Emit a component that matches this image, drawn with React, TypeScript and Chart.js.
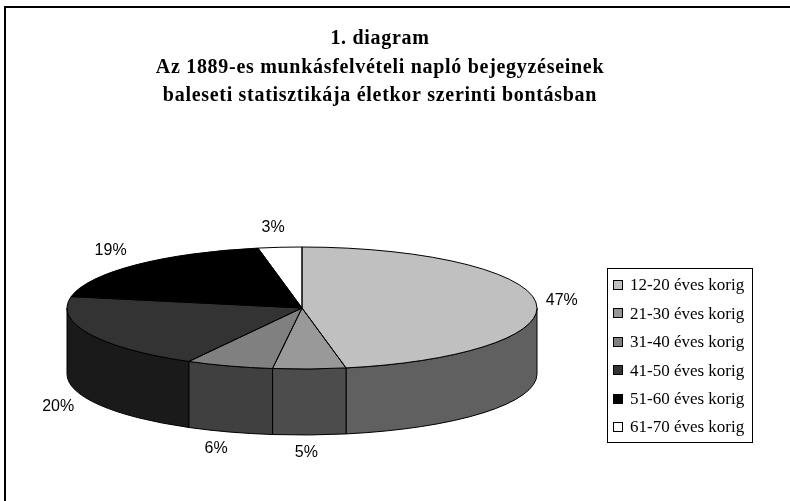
import React, { useEffect, useRef } from "react";
import { Chart, registerables } from "chart.js";

Chart.register(...registerables);

const categories = [
  "12-20 éves korig",
  "21-30 éves korig",
  "31-40 éves korig",
  "41-50 éves korig",
  "51-60 éves korig",
  "61-70 éves korig",
];
const shares = [47, 5, 6, 20, 19, 3];
const titleLines = [
  "1. diagram",
  "Az 1889-es munkásfelvételi napló bejegyzéseinek",
  "baleseti statisztikája életkor szerinti bontásban",
];

const topColors = ["#c0c0c0", "#999999", "#808080", "#333333", "#000000", "#ffffff"];
const sideColors = ["#606060", "#4c4c4c", "#404040", "#1a1a1a", "#000000", "#808080"];
const legendColors = ["#c0c0c0", "#969696", "#808080", "#333333", "#000000", "#ffffff"];

// projected pie geometry (screen px)
const ECX = 302;
const ECY = 308;
const RX = 235;
const RY = 61;
const DEPTH = 66;

const pie3d = {
  id: "pie3d",
  beforeDraw(chart: any) {
    const ctx = chart.ctx;
    ctx.save();
    ctx.fillStyle = "#ffffff";
    ctx.fillRect(0, 0, chart.width, chart.height);
    ctx.strokeStyle = "#000";
    ctx.lineWidth = 2;
    ctx.beginPath();
    ctx.moveTo(5, chart.height + 5);
    ctx.lineTo(5, 7);
    ctx.lineTo(chart.width + 5, 7);
    ctx.stroke();
    // title
    ctx.fillStyle = "#000";
    ctx.font = "bold 20px 'Liberation Serif', 'Times New Roman', serif";
    (ctx as any).letterSpacing = "0.7px";
    ctx.textAlign = "center";
    ctx.textBaseline = "alphabetic";
    titleLines.forEach((t, i) => ctx.fillText(t, 380, 44 + i * 28.5));
    (ctx as any).letterSpacing = "0px";
    ctx.restore();
  },
  beforeDatasetsDraw(chart: any) {
    const ctx = chart.ctx;
    const meta = chart.getDatasetMeta(0);
    const a0 = meta.data[0];
    const cx = a0.x, cy = a0.y, r = a0.outerRadius;
    // side walls (front half only)
    ctx.save();
    ctx.lineWidth = 1;
    ctx.strokeStyle = "#000";
    meta.data.forEach((arc: any, i: number) => {
      const s = arc.startAngle, e = arc.endAngle;
      const ranges = [[0, Math.PI], [2 * Math.PI, 3 * Math.PI]];
      ranges.forEach(([lo, hi]) => {
        const a1 = Math.max(s, lo), a2 = Math.min(e, hi);
        if (a2 <= a1) return;
        ctx.beginPath();
        ctx.moveTo(ECX + RX * Math.cos(a1), ECY + RY * Math.sin(a1));
        ctx.ellipse(ECX, ECY, RX, RY, 0, a1, a2, false);
        ctx.lineTo(ECX + RX * Math.cos(a2), ECY + DEPTH + RY * Math.sin(a2));
        ctx.ellipse(ECX, ECY + DEPTH, RX, RY, 0, a2, a1, true);
        ctx.closePath();
        ctx.fillStyle = sideColors[i];
        ctx.fill();
        ctx.stroke();
      });
    });
    ctx.restore();
    ctx.save();
    ctx.translate(ECX, ECY);
    ctx.scale(RX / r, RY / r);
    ctx.translate(-cx, -cy);
  },
  afterDatasetsDraw(chart: any) {
    const ctx = chart.ctx;
    ctx.restore();
    const meta = chart.getDatasetMeta(0);
    ctx.save();
    ctx.lineWidth = 1;
    ctx.strokeStyle = "#000";
    meta.data.forEach((arc: any) => {
      const s = arc.startAngle, e = arc.endAngle;
      ctx.beginPath();
      ctx.moveTo(ECX, ECY);
      ctx.lineTo(ECX + RX * Math.cos(s), ECY + RY * Math.sin(s));
      ctx.ellipse(ECX, ECY, RX, RY, 0, s, e, false);
      ctx.closePath();
      ctx.stroke();
    });
    // percent labels
    ctx.fillStyle = "#000";
    ctx.font = "16px 'Liberation Sans', Arial, sans-serif";
    ctx.textAlign = "center";
    ctx.textBaseline = "middle";
    const total = shares.reduce((a, b) => a + b, 0);
    meta.data.forEach((arc: any, i: number) => {
      const m = (arc.startAngle + arc.endAngle) / 2;
      const sn = Math.sin(m);
      const x = ECX + (RX + 30) * Math.cos(m) - 4;
      const y = ECY + (RY + 20) * sn + (sn > 0 ? DEPTH - 2 : 0);
      ctx.fillText(Math.round((shares[i] / total) * 100) + "%", x, y);
    });
    // legend
    const lx = 607, ly = 268, lw = 145, lh = 174;
    ctx.fillStyle = "#fff";
    ctx.fillRect(lx, ly, lw, lh);
    ctx.strokeStyle = "#000";
    ctx.lineWidth = 1;
    ctx.strokeRect(lx + 0.5, ly + 0.5, lw, lh);
    ctx.font = "17px 'Liberation Serif', 'Times New Roman', serif";
    ctx.textAlign = "left";
    ctx.textBaseline = "middle";
    categories.forEach((c, i) => {
      const yy = ly + 17 + i * 28.4;
      ctx.fillStyle = legendColors[i];
      ctx.fillRect(613, Math.round(yy - 5), 10, 10);
      ctx.strokeStyle = "#000";
      ctx.strokeRect(613.5, Math.round(yy - 5) + 0.5, 9, 9);
      ctx.fillStyle = "#000";
      ctx.fillText(c, 630, yy + 1);
    });
    ctx.restore();
  },
};

export default function App() {
  const ref = useRef<HTMLCanvasElement>(null);
  useEffect(() => {
    document.body.style.margin = "0";
    const chart = new Chart(ref.current!, {
      type: "pie",
      data: {
        labels: categories,
        datasets: [
          {
            data: shares,
            backgroundColor: topColors,
            borderWidth: 0,
          },
        ],
      },
      options: {
        responsive: false,
        animation: false,
        layout: { padding: { left: 0, right: 30, top: 110, bottom: 0 } },
        plugins: {
          legend: { display: false },
          tooltip: { enabled: false },
          title: { display: false },
        },
      },
      plugins: [pie3d],
    });
    return () => chart.destroy();
  }, []);
  return <canvas ref={ref} width={790} height={501} style={{ display: "block" }} />;
}
